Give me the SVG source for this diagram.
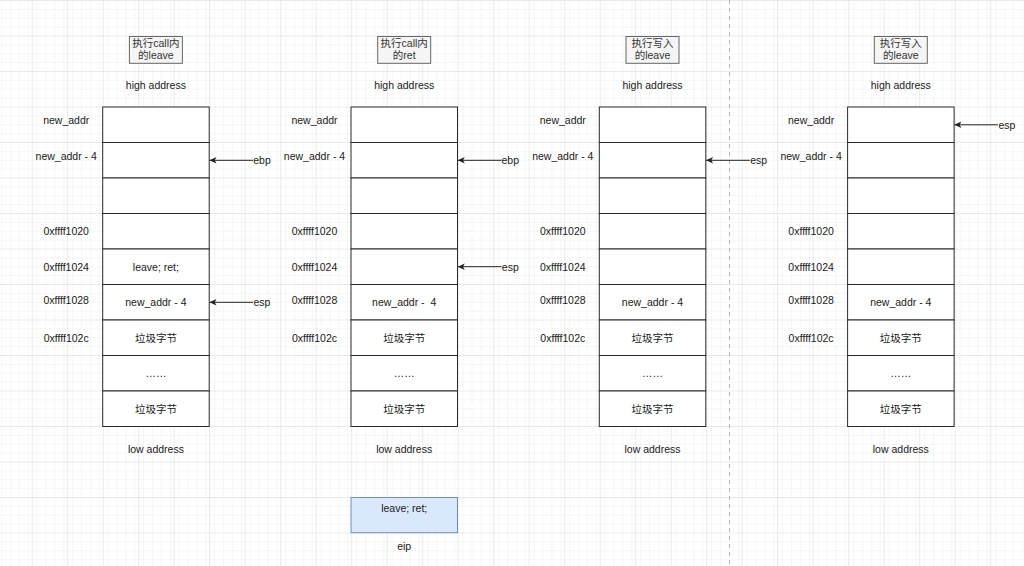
<svg xmlns="http://www.w3.org/2000/svg" width="1024" height="566" viewBox="0 0 1024 566">
<defs>
<pattern id="minor" width="8.875" height="8.875" patternUnits="userSpaceOnUse" x="-3.8" y="0">
<path d="M0 0 H8.875 M0 0 V8.875" fill="none" stroke="#eeeeee" stroke-width="1"/>
</pattern>
<pattern id="major" width="35.5" height="35.5" patternUnits="userSpaceOnUse" x="-3.8" y="0">
<rect width="35.5" height="35.5" fill="url(#minor)"/>
<path d="M0 0 H35.5 M0 0 V35.5" fill="none" stroke="#dcdcdc" stroke-width="1.2"/>
</pattern>
<marker id="arr" markerWidth="8" markerHeight="8" viewBox="0 0 8 8" refX="7.5" refY="4" orient="auto" markerUnits="userSpaceOnUse">
<path d="M0.5 0.8 L7.5 4 L0.5 7.2 L2.3 4 Z" fill="#222"/>
</marker>
</defs>
<style>
text{font-family:"Liberation Sans",Arial,"Noto Sans CJK SC",sans-serif;font-size:10.5px;fill:#1a1a1a;text-anchor:middle;white-space:pre}
.cell{fill:#fff;stroke:#2a2a2a;stroke-width:1}
.title rect{fill:#f5f5f5;stroke:#666;stroke-width:1}
.title text{fill:#333}
.conn{stroke:#222;stroke-width:1;fill:none;marker-end:url(#arr)}
</style>
<rect width="1024" height="566" fill="#fff"/>
<rect width="1024" height="566" fill="url(#major)"/>
<line x1="729.5" y1="0" x2="729.5" y2="566" stroke="#b5b5b5" stroke-width="1" stroke-dasharray="4 4"/>

<g id="col1">
<g id="title1" class="title"><rect x="129.4" y="36.5" width="53" height="26.8"/><text x="155.9" y="47">执行call内</text><text x="155.9" y="59">的leave</text></g>
<text x="155.9" y="88.5">high address</text>
<g id="stack1">
<rect class="cell" x="102.7" y="107" width="106.5" height="35.5"/>
<rect class="cell" x="102.7" y="142.5" width="106.5" height="35.5"/>
<rect class="cell" x="102.7" y="178" width="106.5" height="35.5"/>
<rect class="cell" x="102.7" y="213.5" width="106.5" height="35.5"/>
<rect class="cell" x="102.7" y="249" width="106.5" height="35.5"/>
<rect class="cell" x="102.7" y="284.5" width="106.5" height="35.5"/>
<rect class="cell" x="102.7" y="320" width="106.5" height="35.5"/>
<rect class="cell" x="102.7" y="355.5" width="106.5" height="35.5"/>
<rect class="cell" x="102.7" y="391" width="106.5" height="35.5"/>
<text x="155.9" y="270.8">leave; ret;</text>
<text x="155.9" y="306">new_addr - 4</text>
<text x="155.9" y="341.5">垃圾字节</text>
<text x="155.9" y="377">……</text>
<text x="155.9" y="412.5">垃圾字节</text>
</g>
<text x="155.9" y="452.5">low address</text>
<g id="labels1">
<text x="66.2" y="123.7">new_addr</text>
<text x="66.2" y="159.7">new_addr - 4</text>
<text x="66.2" y="235">0xffff1020</text>
<text x="66.2" y="270.8">0xffff1024</text>
<text x="66.2" y="303.7">0xffff1028</text>
<text x="66.2" y="341.5">0xffff102c</text>
</g>
<text x="262" y="164">ebp</text>
<text x="262" y="306">esp</text>
</g>

<g id="col2">
<g id="title2" class="title"><rect x="377.7" y="36.5" width="53" height="26.8"/><text x="404.2" y="47">执行call内</text><text x="404.2" y="59">的ret</text></g>
<text x="404.2" y="88.5">high address</text>
<g id="stack2">
<rect class="cell" x="351" y="107" width="106.5" height="35.5"/>
<rect class="cell" x="351" y="142.5" width="106.5" height="35.5"/>
<rect class="cell" x="351" y="178" width="106.5" height="35.5"/>
<rect class="cell" x="351" y="213.5" width="106.5" height="35.5"/>
<rect class="cell" x="351" y="249" width="106.5" height="35.5"/>
<rect class="cell" x="351" y="284.5" width="106.5" height="35.5"/>
<rect class="cell" x="351" y="320" width="106.5" height="35.5"/>
<rect class="cell" x="351" y="355.5" width="106.5" height="35.5"/>
<rect class="cell" x="351" y="391" width="106.5" height="35.5"/>
<text x="404.2" y="306">new_addr -  4</text>
<text x="404.2" y="341.5">垃圾字节</text>
<text x="404.2" y="377">……</text>
<text x="404.2" y="412.5">垃圾字节</text>
</g>
<text x="404.2" y="452.5">low address</text>
<g id="labels2">
<text x="314.5" y="123.7">new_addr</text>
<text x="314.5" y="159.7">new_addr - 4</text>
<text x="314.5" y="235">0xffff1020</text>
<text x="314.5" y="270.8">0xffff1024</text>
<text x="314.5" y="303.7">0xffff1028</text>
<text x="314.5" y="341.5">0xffff102c</text>
</g>
<text x="510.3" y="164">ebp</text>
<text x="510.3" y="270.5">esp</text>
</g>

<g id="eip">
<rect x="351" y="497.5" width="106.5" height="35.2" fill="#dae8fc" stroke="#6c8ebf" stroke-width="1"/>
<text x="404.2" y="511.5">leave; ret;</text>
<text x="404.2" y="550">eip</text>
</g>

<g id="col3">
<g id="title3" class="title"><rect x="626" y="36.5" width="53" height="26.8"/><text x="652.5" y="47">执行写入</text><text x="652.5" y="59">的leave</text></g>
<text x="652.5" y="88.5">high address</text>
<g id="stack3">
<rect class="cell" x="599.3" y="107" width="106.5" height="35.5"/>
<rect class="cell" x="599.3" y="142.5" width="106.5" height="35.5"/>
<rect class="cell" x="599.3" y="178" width="106.5" height="35.5"/>
<rect class="cell" x="599.3" y="213.5" width="106.5" height="35.5"/>
<rect class="cell" x="599.3" y="249" width="106.5" height="35.5"/>
<rect class="cell" x="599.3" y="284.5" width="106.5" height="35.5"/>
<rect class="cell" x="599.3" y="320" width="106.5" height="35.5"/>
<rect class="cell" x="599.3" y="355.5" width="106.5" height="35.5"/>
<rect class="cell" x="599.3" y="391" width="106.5" height="35.5"/>
<text x="652.5" y="306">new_addr - 4</text>
<text x="652.5" y="341.5">垃圾字节</text>
<text x="652.5" y="377">……</text>
<text x="652.5" y="412.5">垃圾字节</text>
</g>
<text x="652.5" y="452.5">low address</text>
<g id="labels3">
<text x="562.8" y="123.7">new_addr</text>
<text x="562.8" y="159.7">new_addr - 4</text>
<text x="562.8" y="235">0xffff1020</text>
<text x="562.8" y="270.8">0xffff1024</text>
<text x="562.8" y="303.7">0xffff1028</text>
<text x="562.8" y="341.5">0xffff102c</text>
</g>
<text x="758.6" y="164">esp</text>
</g>

<g id="col4">
<g id="title4" class="title"><rect x="874.3" y="36.5" width="53" height="26.8"/><text x="900.8" y="47">执行写入</text><text x="900.8" y="59">的leave</text></g>
<text x="900.8" y="88.5">high address</text>
<g id="stack4">
<rect class="cell" x="847.6" y="107" width="106.5" height="35.5"/>
<rect class="cell" x="847.6" y="142.5" width="106.5" height="35.5"/>
<rect class="cell" x="847.6" y="178" width="106.5" height="35.5"/>
<rect class="cell" x="847.6" y="213.5" width="106.5" height="35.5"/>
<rect class="cell" x="847.6" y="249" width="106.5" height="35.5"/>
<rect class="cell" x="847.6" y="284.5" width="106.5" height="35.5"/>
<rect class="cell" x="847.6" y="320" width="106.5" height="35.5"/>
<rect class="cell" x="847.6" y="355.5" width="106.5" height="35.5"/>
<rect class="cell" x="847.6" y="391" width="106.5" height="35.5"/>
<text x="900.8" y="306">new_addr - 4</text>
<text x="900.8" y="341.5">垃圾字节</text>
<text x="900.8" y="377">……</text>
<text x="900.8" y="412.5">垃圾字节</text>
</g>
<text x="900.8" y="452.5">low address</text>
<g id="labels4">
<text x="811.1" y="123.7">new_addr</text>
<text x="811.1" y="159.7">new_addr - 4</text>
<text x="811.1" y="235">0xffff1020</text>
<text x="811.1" y="270.8">0xffff1024</text>
<text x="811.1" y="303.7">0xffff1028</text>
<text x="811.1" y="341.5">0xffff102c</text>
</g>
<text x="1007" y="129">esp</text>
</g>

<g id="connectors">
<line class="conn" x1="253" y1="160.3" x2="209.5" y2="160.3"/>
<line class="conn" x1="253" y1="302.3" x2="209.5" y2="302.3"/>
<line class="conn" x1="501.5" y1="160.3" x2="457.8" y2="160.3"/>
<line class="conn" x1="501.5" y1="266.7" x2="457.8" y2="266.7"/>
<line class="conn" x1="749.8" y1="160.3" x2="706.1" y2="160.3"/>
<line class="conn" x1="998" y1="124.8" x2="954.4" y2="124.8"/>
</g>
</svg>
